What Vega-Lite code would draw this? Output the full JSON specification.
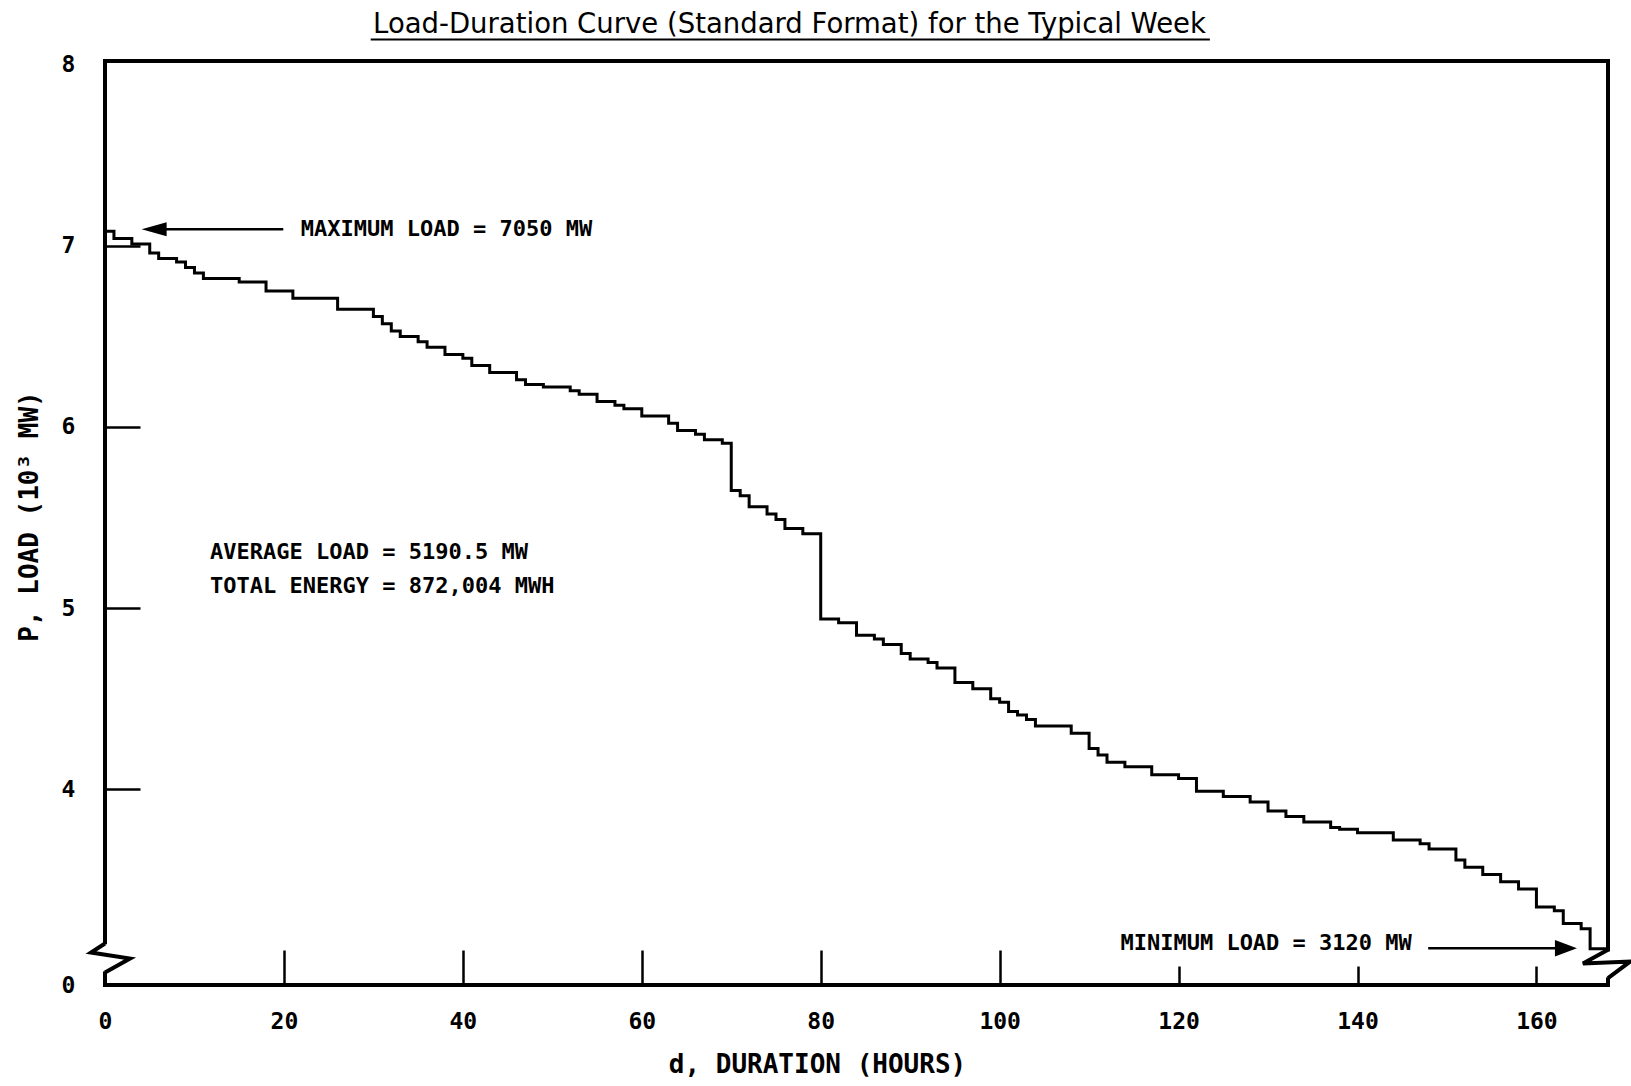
{
  "$schema": "https://vega.github.io/schema/vega-lite/v6.json",
  "autosize": {"type": "none"},
  "padding": {"left": 105, "top": 61, "right": 23, "bottom": 101},
  "width": 1503,
  "height": 924,
  "background": "white",
  "title": {
    "text": "Load-Duration Curve (Standard Format) for the Typical Week",
    "font": "DejaVu Sans",
    "fontSize": 27.5,
    "fontWeight": "normal",
    "color": "black",
    "anchor": "middle",
    "frame": "group",
    "dx": -67,
    "offset": 0
  },
  "config": {
    "view": {"stroke": "black", "strokeWidth": 4},
    "axis": {"labelColor": "black", "titleColor": "black"}
  },
  "datasets": {
    "load": [
      {"d": 0, "p": 7.08}, {"d": 1, "p": 7.04}, {"d": 2, "p": 7.04}, {"d": 3, "p": 7.01}, {"d": 4, "p": 7.01},
      {"d": 5, "p": 6.96}, {"d": 6, "p": 6.93}, {"d": 7, "p": 6.93}, {"d": 8, "p": 6.91}, {"d": 9, "p": 6.88},
      {"d": 10, "p": 6.85}, {"d": 11, "p": 6.82}, {"d": 12, "p": 6.82}, {"d": 13, "p": 6.82}, {"d": 14, "p": 6.82},
      {"d": 15, "p": 6.80}, {"d": 16, "p": 6.80}, {"d": 17, "p": 6.80}, {"d": 18, "p": 6.75}, {"d": 19, "p": 6.75},
      {"d": 20, "p": 6.75}, {"d": 21, "p": 6.71}, {"d": 22, "p": 6.71}, {"d": 23, "p": 6.71}, {"d": 24, "p": 6.71},
      {"d": 25, "p": 6.71}, {"d": 26, "p": 6.65}, {"d": 27, "p": 6.65}, {"d": 28, "p": 6.65}, {"d": 29, "p": 6.65},
      {"d": 30, "p": 6.61}, {"d": 31, "p": 6.57}, {"d": 32, "p": 6.53}, {"d": 33, "p": 6.50}, {"d": 34, "p": 6.50},
      {"d": 35, "p": 6.47}, {"d": 36, "p": 6.44}, {"d": 37, "p": 6.44}, {"d": 38, "p": 6.40}, {"d": 39, "p": 6.40},
      {"d": 40, "p": 6.38}, {"d": 41, "p": 6.34}, {"d": 42, "p": 6.34}, {"d": 43, "p": 6.30}, {"d": 44, "p": 6.30},
      {"d": 45, "p": 6.30}, {"d": 46, "p": 6.26}, {"d": 47, "p": 6.235}, {"d": 48, "p": 6.235}, {"d": 49, "p": 6.22},
      {"d": 50, "p": 6.22}, {"d": 51, "p": 6.22}, {"d": 52, "p": 6.20}, {"d": 53, "p": 6.18}, {"d": 54, "p": 6.18},
      {"d": 55, "p": 6.14}, {"d": 56, "p": 6.14}, {"d": 57, "p": 6.12}, {"d": 58, "p": 6.10}, {"d": 59, "p": 6.10},
      {"d": 60, "p": 6.06}, {"d": 61, "p": 6.06}, {"d": 62, "p": 6.06}, {"d": 63, "p": 6.02}, {"d": 64, "p": 5.98},
      {"d": 65, "p": 5.98}, {"d": 66, "p": 5.96}, {"d": 67, "p": 5.93}, {"d": 68, "p": 5.93}, {"d": 69, "p": 5.91},
      {"d": 70, "p": 5.65}, {"d": 71, "p": 5.62}, {"d": 72, "p": 5.56}, {"d": 73, "p": 5.56}, {"d": 74, "p": 5.52},
      {"d": 75, "p": 5.49}, {"d": 76, "p": 5.44}, {"d": 77, "p": 5.44}, {"d": 78, "p": 5.41}, {"d": 79, "p": 5.41},
      {"d": 80, "p": 4.94}, {"d": 81, "p": 4.94}, {"d": 82, "p": 4.92}, {"d": 83, "p": 4.92}, {"d": 84, "p": 4.85},
      {"d": 85, "p": 4.85}, {"d": 86, "p": 4.83}, {"d": 87, "p": 4.80}, {"d": 88, "p": 4.80}, {"d": 89, "p": 4.75},
      {"d": 90, "p": 4.72}, {"d": 91, "p": 4.72}, {"d": 92, "p": 4.70}, {"d": 93, "p": 4.67}, {"d": 94, "p": 4.67},
      {"d": 95, "p": 4.59}, {"d": 96, "p": 4.59}, {"d": 97, "p": 4.555}, {"d": 98, "p": 4.555}, {"d": 99, "p": 4.50},
      {"d": 100, "p": 4.48}, {"d": 101, "p": 4.43}, {"d": 102, "p": 4.41}, {"d": 103, "p": 4.385}, {"d": 104, "p": 4.35},
      {"d": 105, "p": 4.35}, {"d": 106, "p": 4.35}, {"d": 107, "p": 4.35}, {"d": 108, "p": 4.31}, {"d": 109, "p": 4.31},
      {"d": 110, "p": 4.225}, {"d": 111, "p": 4.19}, {"d": 112, "p": 4.15}, {"d": 113, "p": 4.15}, {"d": 114, "p": 4.125},
      {"d": 115, "p": 4.125}, {"d": 116, "p": 4.125}, {"d": 117, "p": 4.08}, {"d": 118, "p": 4.08}, {"d": 119, "p": 4.08},
      {"d": 120, "p": 4.06}, {"d": 121, "p": 4.06}, {"d": 122, "p": 3.99}, {"d": 123, "p": 3.99}, {"d": 124, "p": 3.99},
      {"d": 125, "p": 3.96}, {"d": 126, "p": 3.96}, {"d": 127, "p": 3.96}, {"d": 128, "p": 3.93}, {"d": 129, "p": 3.93},
      {"d": 130, "p": 3.88}, {"d": 131, "p": 3.88}, {"d": 132, "p": 3.85}, {"d": 133, "p": 3.85}, {"d": 134, "p": 3.82},
      {"d": 135, "p": 3.82}, {"d": 136, "p": 3.82}, {"d": 137, "p": 3.79}, {"d": 138, "p": 3.78}, {"d": 139, "p": 3.78},
      {"d": 140, "p": 3.76}, {"d": 141, "p": 3.76}, {"d": 142, "p": 3.76}, {"d": 143, "p": 3.76}, {"d": 144, "p": 3.72},
      {"d": 145, "p": 3.72}, {"d": 146, "p": 3.72}, {"d": 147, "p": 3.70}, {"d": 148, "p": 3.67}, {"d": 149, "p": 3.67},
      {"d": 150, "p": 3.67}, {"d": 151, "p": 3.61}, {"d": 152, "p": 3.57}, {"d": 153, "p": 3.57}, {"d": 154, "p": 3.53},
      {"d": 155, "p": 3.53}, {"d": 156, "p": 3.49}, {"d": 157, "p": 3.49}, {"d": 158, "p": 3.45}, {"d": 159, "p": 3.45},
      {"d": 160, "p": 3.35}, {"d": 161, "p": 3.35}, {"d": 162, "p": 3.33}, {"d": 163, "p": 3.26}, {"d": 164, "p": 3.26},
      {"d": 165, "p": 3.23}, {"d": 166, "p": 3.12}, {"d": 167, "p": 3.12}, {"d": 168, "p": 3.12}
    ],
    "breaks": [
      {"side": "left", "k": 1, "d": 0, "p": 3.149},
      {"side": "left", "k": 2, "d": -1.565, "p": 3.099},
      {"side": "left", "k": 3, "d": 2.795, "p": 3.066},
      {"side": "left", "k": 4, "d": 0, "p": 2.989},
      {"side": "right", "k": 1, "d": 168, "p": 3.115},
      {"side": "right", "k": 2, "d": 165.2, "p": 3.039},
      {"side": "right", "k": 3, "d": 170.5, "p": 3.05},
      {"side": "right", "k": 4, "d": 168, "p": 2.958}
    ],
    "one": [{}]
  },
  "layer": [
    {
      "data": {"name": "load"},
      "mark": {"type": "line", "interpolate": "step-after", "color": "black", "strokeWidth": 3},
      "encoding": {
        "x": {
          "field": "d", "type": "quantitative",
          "scale": {"domain": [0, 168], "nice": false, "zero": false},
          "axis": {
            "title": "d, DURATION (HOURS)",
            "values": [0, 20, 40, 60, 80, 100, 120, 140, 160],
            "format": "d",
            "domain": false, "grid": false,
            "tickSize": {"condition": {"test": "datum.value >= 110", "value": -19}, "value": -35},
            "tickWidth": 2.5,
            "tickColor": {"condition": {"test": "datum.value == 0", "value": "transparent"}, "value": "black"},
            "labelPadding": {"condition": {"test": "datum.value >= 110", "value": 55}, "value": 71},
            "labelBaseline": "middle", "labelAlign": "center",
            "labelFont": "DejaVu Sans Mono", "labelFontSize": 23, "labelFontWeight": "bold",
            "labelFlush": false, "labelOverlap": false,
            "titleFont": "DejaVu Sans Mono", "titleFontSize": 26, "titleFontWeight": "bold",
            "titleX": 712, "titleY": 79, "titleBaseline": "middle", "titleAlign": "center"
          }
        },
        "y": {
          "field": "p", "type": "quantitative",
          "scale": {"domain": [2.92, 8.02], "nice": false, "zero": false},
          "axis": {
            "title": "P, LOAD (10³ MW)",
            "values": [2.92, 4, 5, 6, 7, 8],
            "format": "d",
            "labelExpr": "datum.value < 3 ? '0' : datum.label",
            "domain": false, "grid": false,
            "tickSize": -35, "tickWidth": 2.5,
            "tickColor": {"condition": {"test": "datum.value < 3 || datum.value > 7.5", "value": "transparent"}, "value": "black"},
            "labelPadding": 72, "labelAlign": "center", "labelBaseline": "middle",
            "labelFont": "DejaVu Sans Mono", "labelFontSize": 23, "labelFontWeight": "bold",
            "labelFlush": false, "labelOverlap": false,
            "titleFont": "DejaVu Sans Mono", "titleFontSize": 26, "titleFontWeight": "bold",
            "titleX": -76, "titleY": 455, "titleBaseline": "middle", "titleAlign": "center", "titleAngle": 270
          }
        }
      }
    },
    {
      "data": {"name": "one"},
      "mark": {"type": "rule", "color": "white", "strokeWidth": 8},
      "encoding": {
        "x": {"datum": 0, "type": "quantitative", "scale": {"domain": [0, 168]}},
        "y": {"datum": 2.995, "type": "quantitative", "scale": {"domain": [2.92, 8.02]}},
        "y2": {"datum": 3.145}
      }
    },
    {
      "data": {"name": "one"},
      "mark": {"type": "rule", "color": "white", "strokeWidth": 8},
      "encoding": {
        "x": {"datum": 168, "type": "quantitative", "scale": {"domain": [0, 168]}},
        "y": {"datum": 2.962, "type": "quantitative", "scale": {"domain": [2.92, 8.02]}},
        "y2": {"datum": 3.105}
      }
    },
    {
      "data": {"name": "breaks"},
      "mark": {"type": "line", "color": "black", "strokeWidth": 4, "strokeJoin": "miter"},
      "encoding": {
        "x": {"field": "d", "type": "quantitative", "scale": {"domain": [0, 168]}},
        "y": {"field": "p", "type": "quantitative", "scale": {"domain": [2.92, 8.02]}},
        "detail": {"field": "side"},
        "order": {"field": "k"}
      }
    },
    {
      "data": {"name": "one"},
      "mark": {"type": "rule", "color": "black", "strokeWidth": 2},
      "encoding": {
        "x": {"datum": 29.7, "type": "quantitative", "scale": {"domain": [0, 168]}},
        "x2": {"datum": 123.5},
        "y": {"datum": 8.139, "type": "quantitative", "scale": {"domain": [2.92, 8.02]}}
      }
    },
    {
      "data": {"name": "one"},
      "mark": {"type": "rule", "color": "black", "strokeWidth": 2.5},
      "encoding": {
        "x": {"datum": 5.5, "type": "quantitative", "scale": {"domain": [0, 168]}},
        "x2": {"datum": 19.93},
        "y": {"datum": 7.092, "type": "quantitative", "scale": {"domain": [2.92, 8.02]}}
      }
    },
    {
      "data": {"name": "one"},
      "mark": {"type": "point", "shape": "M-1,0L1,-0.56L1,0.56Z", "size": 625, "filled": true, "color": "black", "opacity": 1, "strokeWidth": 0},
      "encoding": {
        "x": {"datum": 5.49, "type": "quantitative", "scale": {"domain": [0, 168]}},
        "y": {"datum": 7.092, "type": "quantitative", "scale": {"domain": [2.92, 8.02]}}
      }
    },
    {
      "data": {"name": "one"},
      "mark": {"type": "rule", "color": "black", "strokeWidth": 2.5},
      "encoding": {
        "x": {"datum": 147.9, "type": "quantitative", "scale": {"domain": [0, 168]}},
        "x2": {"datum": 163.3},
        "y": {"datum": 3.123, "type": "quantitative", "scale": {"domain": [2.92, 8.02]}}
      }
    },
    {
      "data": {"name": "one"},
      "mark": {"type": "point", "shape": "M1,0L-1,-0.75L-1,0.75Z", "size": 484, "filled": true, "color": "black", "opacity": 1, "strokeWidth": 0},
      "encoding": {
        "x": {"datum": 163.3, "type": "quantitative", "scale": {"domain": [0, 168]}},
        "y": {"datum": 3.123, "type": "quantitative", "scale": {"domain": [2.92, 8.02]}}
      }
    },
    {
      "data": {"name": "one"},
      "mark": {"type": "text", "align": "left", "baseline": "middle", "font": "DejaVu Sans Mono", "fontSize": 22, "fontWeight": "bold", "color": "black"},
      "encoding": {
        "x": {"datum": 21.88, "type": "quantitative", "scale": {"domain": [0, 168]}},
        "y": {"datum": 7.092, "type": "quantitative", "scale": {"domain": [2.92, 8.02]}},
        "text": {"value": "MAXIMUM LOAD = 7050 MW"}
      }
    },
    {
      "data": {"name": "one"},
      "mark": {"type": "text", "align": "left", "baseline": "middle", "font": "DejaVu Sans Mono", "fontSize": 22, "fontWeight": "bold", "color": "black"},
      "encoding": {
        "x": {"datum": 11.75, "type": "quantitative", "scale": {"domain": [0, 168]}},
        "y": {"datum": 5.308, "type": "quantitative", "scale": {"domain": [2.92, 8.02]}},
        "text": {"value": "AVERAGE LOAD = 5190.5 MW"}
      }
    },
    {
      "data": {"name": "one"},
      "mark": {"type": "text", "align": "left", "baseline": "middle", "font": "DejaVu Sans Mono", "fontSize": 22, "fontWeight": "bold", "color": "black"},
      "encoding": {
        "x": {"datum": 11.75, "type": "quantitative", "scale": {"domain": [0, 168]}},
        "y": {"datum": 5.124, "type": "quantitative", "scale": {"domain": [2.92, 8.02]}},
        "text": {"value": "TOTAL ENERGY = 872,004 MWH"}
      }
    },
    {
      "data": {"name": "one"},
      "mark": {"type": "text", "align": "left", "baseline": "middle", "font": "DejaVu Sans Mono", "fontSize": 22, "fontWeight": "bold", "color": "black"},
      "encoding": {
        "x": {"datum": 113.5, "type": "quantitative", "scale": {"domain": [0, 168]}},
        "y": {"datum": 3.15, "type": "quantitative", "scale": {"domain": [2.92, 8.02]}},
        "text": {"value": "MINIMUM LOAD = 3120 MW"}
      }
    }
  ]
}
